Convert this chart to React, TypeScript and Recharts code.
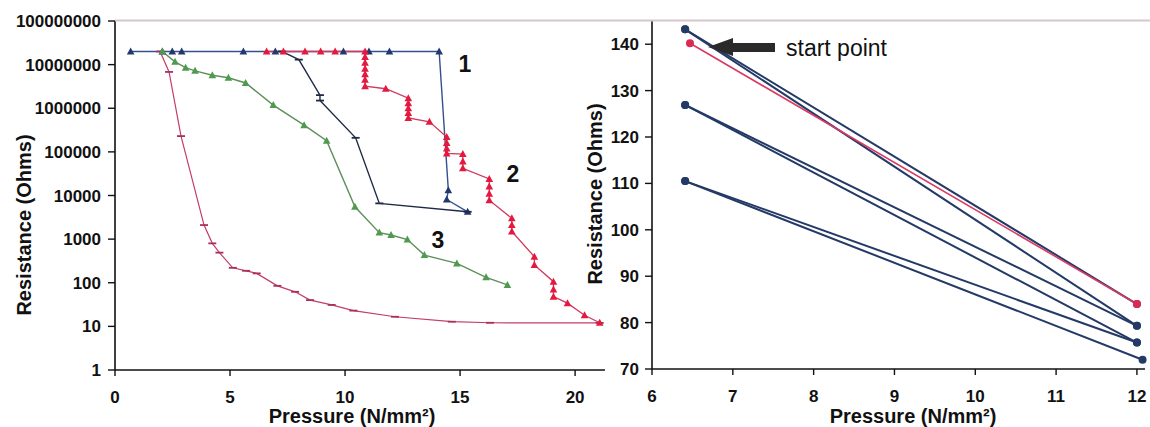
import React from 'react';
import { LineChart, Line, XAxis, YAxis } from 'recharts';

const FONT = '"Liberation Sans", Arial, Helvetica, sans-serif';

// ---- left panel (log resistance vs pressure) ----
// sample 1: navy triangles
const pressure1 = [0.68, 2.06, 2.49, 2.9, 5.58, 6.97, 9.93, 11.04, 11.93, 14.09, 14.49, 14.42, 15.33];
const resist1 = [2e7, 2e7, 2e7, 2e7, 2e7, 2e7, 2e7, 2e7, 2e7, 2e7, 13200, 8100, 4230];

// sample 2: red triangles (stacked readings show as bars)
const pressure2 = [
  6.59, 7.32, 8.26, 8.94, 9.57, 10.87, 10.87, 10.87, 10.87, 10.87, 10.87, 10.87,
  11.77, 12.75, 12.75, 12.75, 12.75, 12.75, 13.67, 14.42, 14.42, 14.42, 14.42,
  15.12, 15.12, 15.12, 16.27, 16.27, 16.27, 16.27, 17.25, 17.25, 17.25, 18.23, 18.23,
  19.06, 19.06, 19.06, 19.67, 20.41, 21.07,
];
const resist2 = [
  2e7, 2e7, 2e7, 2e7, 2e7, 2e7, 1.5e7, 1.1e7, 8e6, 6e6, 4.5e6, 3.2e6,
  2.8e6, 1.7e6, 1.3e6, 1.0e6, 7.8e5, 6e5, 4.9e5, 2.2e5, 1.6e5, 1.2e5, 9.2e4,
  8.9e4, 6e4, 4.2e4, 2.4e4, 1.6e4, 1.1e4, 7.8e3, 3000, 2100, 1500, 395, 255,
  106, 70, 48, 34, 18, 12.1,
];

// sample 3: green triangles
const pressure3 = [2.06, 2.61, 3.07, 3.48, 4.23, 4.93, 5.68, 6.88, 8.22, 9.2, 10.43, 11.49, 12.0, 12.71, 13.45, 14.86, 16.13, 17.06];
const resist3 = [2e7, 1.16e7, 8.5e6, 7.2e6, 5.7e6, 5.0e6, 3.8e6, 1.18e6, 4.1e5, 1.8e5, 5500, 1410, 1240, 980, 430, 278, 133, 89];

// pink curve with dash markers
const pressure4 = [1.96, 2.35, 2.87, 3.87, 4.23, 4.54, 5.12, 5.7, 6.16, 7.06, 7.83, 8.48, 9.42, 10.36, 12.17, 14.64, 16.3, 21.07];
const resist4 = [2e7, 6.8e6, 2.3e5, 2100, 800, 490, 220, 188, 164, 85, 62, 40, 31, 23, 16.6, 12.8, 12.1, 12];

// dark navy curve with dash markers
const pressure5 = [7.25, 7.99, 8.91, 8.91, 10.46, 11.49, 15.33];
const resist5 = [2e7, 1.3e7, 2e6, 1.5e6, 2.1e5, 6600, 4230];

const leftXTicks = [0, 5, 10, 15, 20];
const leftYTicks = [1, 10, 100, 1000, 10000, 100000, 1000000, 10000000, 100000000];

// ---- right panel (linear resistance vs pressure) ----
const startPressure = [6.41, 6.41, 6.41, 6.41, 6.41, 6.41, 6.47];
const startResist = [143.2, 143.2, 126.9, 126.9, 110.5, 110.5, 140.2];
const endPressure = [12.0, 12.0, 12.0, 12.0, 12.0, 12.07, 12.0];
const endResist = [84.0, 79.3, 79.3, 75.7, 75.7, 72.0, 84.0];
const lineIsRed = [false, false, false, false, false, false, true];

const rightXTicks = [6, 7, 8, 9, 10, 11, 12];
const rightYTicks = [70, 80, 90, 100, 110, 120, 130, 140];

const toPoints = (xs: number[], ys: number[]) => xs.map((x, i) => ({ x, y: ys[i] }));

const tickStyle = { fontSize: 17, fontWeight: 700, fill: '#111', fontFamily: FONT };

const triangleDot = (fill: string) => (props: any) => {
  const { cx, cy, index } = props;
  if (cx == null || cy == null) return <g key={index} />;
  return (
    <polygon
      key={index}
      points={`${cx},${cy - 4} ${cx - 3.8},${cy + 3} ${cx + 3.8},${cy + 3}`}
      fill={fill}
    />
  );
};

const dashDot = (stroke: string) => (props: any) => {
  const { cx, cy, index } = props;
  if (cx == null || cy == null) return <g key={index} />;
  return <line key={index} x1={cx - 4} x2={cx + 4} y1={cy} y2={cy} stroke={stroke} strokeWidth={1.8} />;
};

function LeftChart() {
  return (
    <LineChart width={610} height={427} margin={{ top: 21, right: 5, bottom: 0, left: 0 }}>
      <XAxis
        type="number"
        dataKey="x"
        domain={[0, 21.3]}
        ticks={leftXTicks}
        height={57}
        tick={tickStyle}
        tickSize={6}
        tickMargin={15}
        axisLine={{ stroke: '#111', strokeWidth: 1.6 }}
        tickLine={{ stroke: '#111', strokeWidth: 1.4 }}
      />
      <YAxis
        type="number"
        scale="log"
        domain={[1, 100000000]}
        ticks={leftYTicks}
        width={115}
        tick={tickStyle}
        tickSize={7}
        tickMargin={7}
        tickFormatter={(v: number) => String(v)}
        axisLine={{ stroke: '#111', strokeWidth: 1.6 }}
        tickLine={{ stroke: '#111', strokeWidth: 1.4 }}
      />
      <Line
        data={toPoints(pressure1, resist1)}
        dataKey="y"
        stroke="#34508e"
        strokeWidth={1.4}
        dot={triangleDot('#22386e')}
        isAnimationActive={false}
      />
      <Line
        data={toPoints(pressure5, resist5)}
        dataKey="y"
        stroke="#1f2b46"
        strokeWidth={1.4}
        dot={dashDot('#1f2b46')}
        isAnimationActive={false}
      />
      <Line
        data={toPoints(pressure4, resist4)}
        dataKey="y"
        stroke="#c43c6c"
        strokeWidth={1.2}
        dot={dashDot('#a83060')}
        isAnimationActive={false}
      />
      <Line
        data={toPoints(pressure3, resist3)}
        dataKey="y"
        stroke="#5e8f5a"
        strokeWidth={1.4}
        dot={triangleDot('#4f9a4f')}
        isAnimationActive={false}
      />
      <Line
        data={toPoints(pressure2, resist2)}
        dataKey="y"
        stroke="#d03a5e"
        strokeWidth={1.3}
        dot={triangleDot('#e4193f')}
        isAnimationActive={false}
      />
    </LineChart>
  );
}

function RightChart() {
  return (
    <LineChart width={590} height={427} margin={{ top: 21, right: 5, bottom: 0, left: 0 }}>
      <XAxis
        type="number"
        dataKey="x"
        domain={[6, 12.1]}
        ticks={rightXTicks}
        height={58}
        tick={tickStyle}
        tickSize={6}
        tickMargin={15}
        axisLine={{ stroke: '#111', strokeWidth: 1.6 }}
        tickLine={{ stroke: '#111', strokeWidth: 1.4 }}
      />
      <YAxis
        type="number"
        domain={[70, 145]}
        ticks={rightYTicks}
        width={92}
        tick={tickStyle}
        tickSize={7}
        tickMargin={6}
        axisLine={{ stroke: '#111', strokeWidth: 1.6 }}
        tickLine={{ stroke: '#111', strokeWidth: 1.4 }}
      />
      {startPressure.map((sp, i) => {
        const color = lineIsRed[i] ? '#dc2a55' : '#243a66';
        return (
          <Line
            key={i}
            data={toPoints([sp, endPressure[i]], [startResist[i], endResist[i]])}
            dataKey="y"
            stroke={lineIsRed[i] ? '#d83a64' : '#243a66'}
            strokeWidth={lineIsRed[i] ? 1.6 : 2}
            dot={{ r: 4, fill: color, stroke: color, strokeWidth: 0 }}
            isAnimationActive={false}
          />
        );
      })}
    </LineChart>
  );
}

export default function App() {
  return (
    <div style={{ position: 'absolute', left: 0, top: 0, width: 1150, height: 427, background: '#fff', fontFamily: FONT }}>
      <div style={{ position: 'absolute', left: 0, top: 0 }}>
        <LeftChart />
      </div>
      <div style={{ position: 'absolute', left: 560, top: 0 }}>
        <RightChart />
      </div>
      <svg
        width={1150}
        height={427}
        style={{ position: 'absolute', left: 0, top: 0, pointerEvents: 'none' }}
        fontFamily={FONT}
      >
        <line x1={115} x2={1150} y1={20.5} y2={20.5} stroke="#d6c6ce" strokeWidth={2} />
        {/* axis titles */}
        <text x={31} y={225} transform="rotate(-90 31 225)" textAnchor="middle" fontSize={20} fontWeight={700} fill="#111">
          Resistance (Ohms)
        </text>
        <text x={602} y={194} transform="rotate(-90 602 194)" textAnchor="middle" fontSize={20} fontWeight={700} fill="#111">
          Resistance (Ohms)
        </text>
        <text x={352} y={423} textAnchor="middle" fontSize={20} fontWeight={700} fill="#111">
          Pressure (N/mm²)
        </text>
        <text x={913} y={423} textAnchor="middle" fontSize={20} fontWeight={700} fill="#111">
          Pressure (N/mm²)
        </text>
        {/* curve labels */}
        <text x={465} y={72} textAnchor="middle" fontSize={23} fontWeight={700} fill="#111">1</text>
        <text x={513} y={182} textAnchor="middle" fontSize={23} fontWeight={700} fill="#111">2</text>
        <text x={438} y={248} textAnchor="middle" fontSize={23} fontWeight={700} fill="#111">3</text>
        {/* start point annotation */}
        <polygon points="708,47 733,38 733,43 775,43 775,52 733,52 733,56" fill="#2a2a2a" />
        <text x={786} y={56} fontSize={23} fill="#111">start point</text>
      </svg>
    </div>
  );
}
